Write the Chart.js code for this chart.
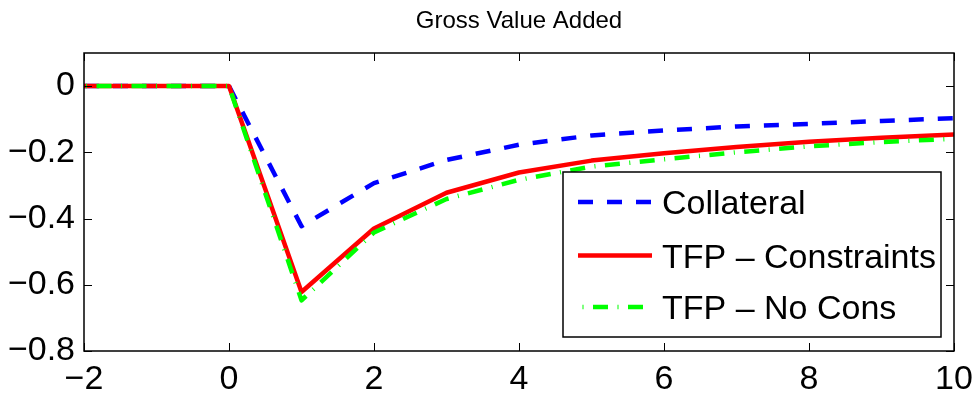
<!DOCTYPE html>
<html>
<head>
<meta charset="utf-8">
<script src="https://cdn.jsdelivr.net/npm/chart.js@4/dist/chart.umd.min.js"></script>
<style>
html,body{margin:0;padding:0;background:#fff;}
#wrap{width:979px;height:394px;}
</style>
</head>
<body>
<div id="wrap"><canvas id="c" width="979" height="394"></canvas></div>
<script>
// ---- data ----
const periods = [-2, -1, 0, 1, 2, 3, 4, 5, 6, 7, 8, 9, 10];
const collateral = [0, 0, 0, -0.423, -0.293, -0.223, -0.177, -0.149, -0.134, -0.122, -0.114, -0.105, -0.097];
const tfpConstraints = [0, 0, 0, -0.622, -0.43, -0.322, -0.261, -0.225, -0.203, -0.184, -0.168, -0.156, -0.146];
const tfpNoCons = [0, 0, 0, -0.647, -0.442, -0.341, -0.283, -0.243, -0.221, -0.2, -0.182, -0.169, -0.159];
const seriesNames = ['Collateral', 'TFP \u2013 Constraints', 'TFP \u2013 No Cons'];
const xTicks = [-2, 0, 2, 4, 6, 8, 10];
const yTicks = [-0.8, -0.6, -0.4, -0.2, 0];
const titleText = 'Gross Value Added';

const FONT = "'Liberation Sans', Arial, Helvetica, sans-serif";
const toPts = vals => periods.map((p, i) => ({x: p, y: vals[i]}));
const fmt = v => {
  if (Math.abs(v) < 1e-9) return '0';
  const s = Number.isInteger(v) ? String(Math.abs(v)) : Math.abs(v).toFixed(1);
  return (v < 0 ? '\u2212' : '') + s;
};

const styles = [
  {color: '#0000ff', dash: [15, 14], offset: 0},
  {color: '#ff0000', dash: [], offset: 0},
  {color: '#00ff00', dash: [15, 9.5, 1, 9.5], offset: 22.5}
];
const LW = 4.5;

const frameAndLegend = {
  id: 'frameAndLegend',
  afterDatasetsDraw(chart) {
    const {ctx, chartArea: a, scales: {x, y}} = chart;
    ctx.save();
    ctx.strokeStyle = '#000';
    ctx.lineWidth = 1.5;
    ctx.setLineDash([]);
    ctx.strokeRect(a.left, a.top, a.right - a.left, a.bottom - a.top);
    ctx.lineWidth = 1;
    const L = 8;
    ctx.beginPath();
    xTicks.forEach(v => {
      const px = Math.round(x.getPixelForValue(v)) + 0.5;
      ctx.moveTo(px, a.bottom); ctx.lineTo(px, a.bottom - L);
      ctx.moveTo(px, a.top); ctx.lineTo(px, a.top + L);
    });
    yTicks.forEach(v => {
      const py = Math.round(y.getPixelForValue(v)) + 0.5;
      ctx.moveTo(a.left, py); ctx.lineTo(a.left + L, py);
      ctx.moveTo(a.right, py); ctx.lineTo(a.right - L, py);
    });
    ctx.stroke();

    // legend box
    const bw = 378, bh = 165;
    const bx = a.right - 13 - bw, by = a.bottom - 14 - bh;
    ctx.fillStyle = '#fff';
    ctx.fillRect(bx, by, bw, bh);
    ctx.lineWidth = 1.5;
    ctx.strokeStyle = '#000';
    ctx.strokeRect(bx, by, bw, bh);
    const rows = [30, 83.5, 135];
    ctx.font = '34px ' + FONT;
    ctx.textBaseline = 'alphabetic';
    ctx.textAlign = 'left';
    seriesNames.forEach((name, i) => {
      const ry = by + rows[i];
      ctx.save();
      ctx.strokeStyle = styles[i].color;
      ctx.lineWidth = LW;
      ctx.lineCap = 'butt';
      ctx.setLineDash(styles[i].dash);
      if (i === 2) ctx.lineDashOffset = 20;
      ctx.beginPath();
      ctx.moveTo(bx + 15, ry);
      ctx.lineTo(bx + 89, ry);
      ctx.stroke();
      ctx.restore();
      ctx.fillStyle = '#000';
      ctx.fillText(name, bx + 99, ry + 12);
    });
    ctx.restore();
  }
};

const mk = (label, vals, i, order) => ({
  label, data: toPts(vals),
  borderColor: styles[i].color, backgroundColor: styles[i].color,
  borderDash: styles[i].dash, borderDashOffset: styles[i].offset, borderWidth: LW,
  borderJoinStyle: 'round', borderCapStyle: 'butt',
  pointRadius: 0, tension: 0, fill: false, order
});

new Chart(document.getElementById('c'), {
  type: 'line',
  data: {
    datasets: [
      mk(seriesNames[0], collateral, 0, 2),
      mk(seriesNames[1], tfpConstraints, 1, 1),
      mk(seriesNames[2], tfpNoCons, 2, 0)
    ]
  },
  options: {
    responsive: false,
    devicePixelRatio: 1,
    animation: false,
    layout: {padding: {left: 0, right: 25, top: 0, bottom: 0}},
    plugins: {
      legend: {display: false},
      tooltip: {enabled: false},
      title: {
        display: true, text: titleText, fullSize: false,
        color: '#000', font: {family: FONT, size: 24, weight: 'normal'},
        padding: {top: 7.4, bottom: 16.8}
      }
    },
    scales: {
      x: {
        type: 'linear', min: -2, max: 10,
        afterBuildTicks: s => { s.ticks = xTicks.map(v => ({value: v})); },
        afterFit: s => { s.height = 43; s.paddingLeft = 0; s.paddingRight = 0; },
        grid: {display: false, drawTicks: false},
        border: {display: false},
        ticks: {color: '#000', font: {family: FONT, size: 34}, padding: 8, maxRotation: 0,
                callback: v => fmt(v)}
      },
      y: {
        type: 'linear', min: -0.8, max: 0.1,
        afterBuildTicks: s => { s.ticks = yTicks.map(v => ({value: v})); },
        afterFit: s => { s.width = 84; s.paddingTop = 0; s.paddingBottom = 0; },
        grid: {display: false, drawTicks: false},
        border: {display: false},
        ticks: {color: '#000', font: {family: FONT, size: 34}, padding: 9,
                callback: v => fmt(v)}
      }
    }
  },
  plugins: [frameAndLegend]
});
</script>
</body>
</html>
